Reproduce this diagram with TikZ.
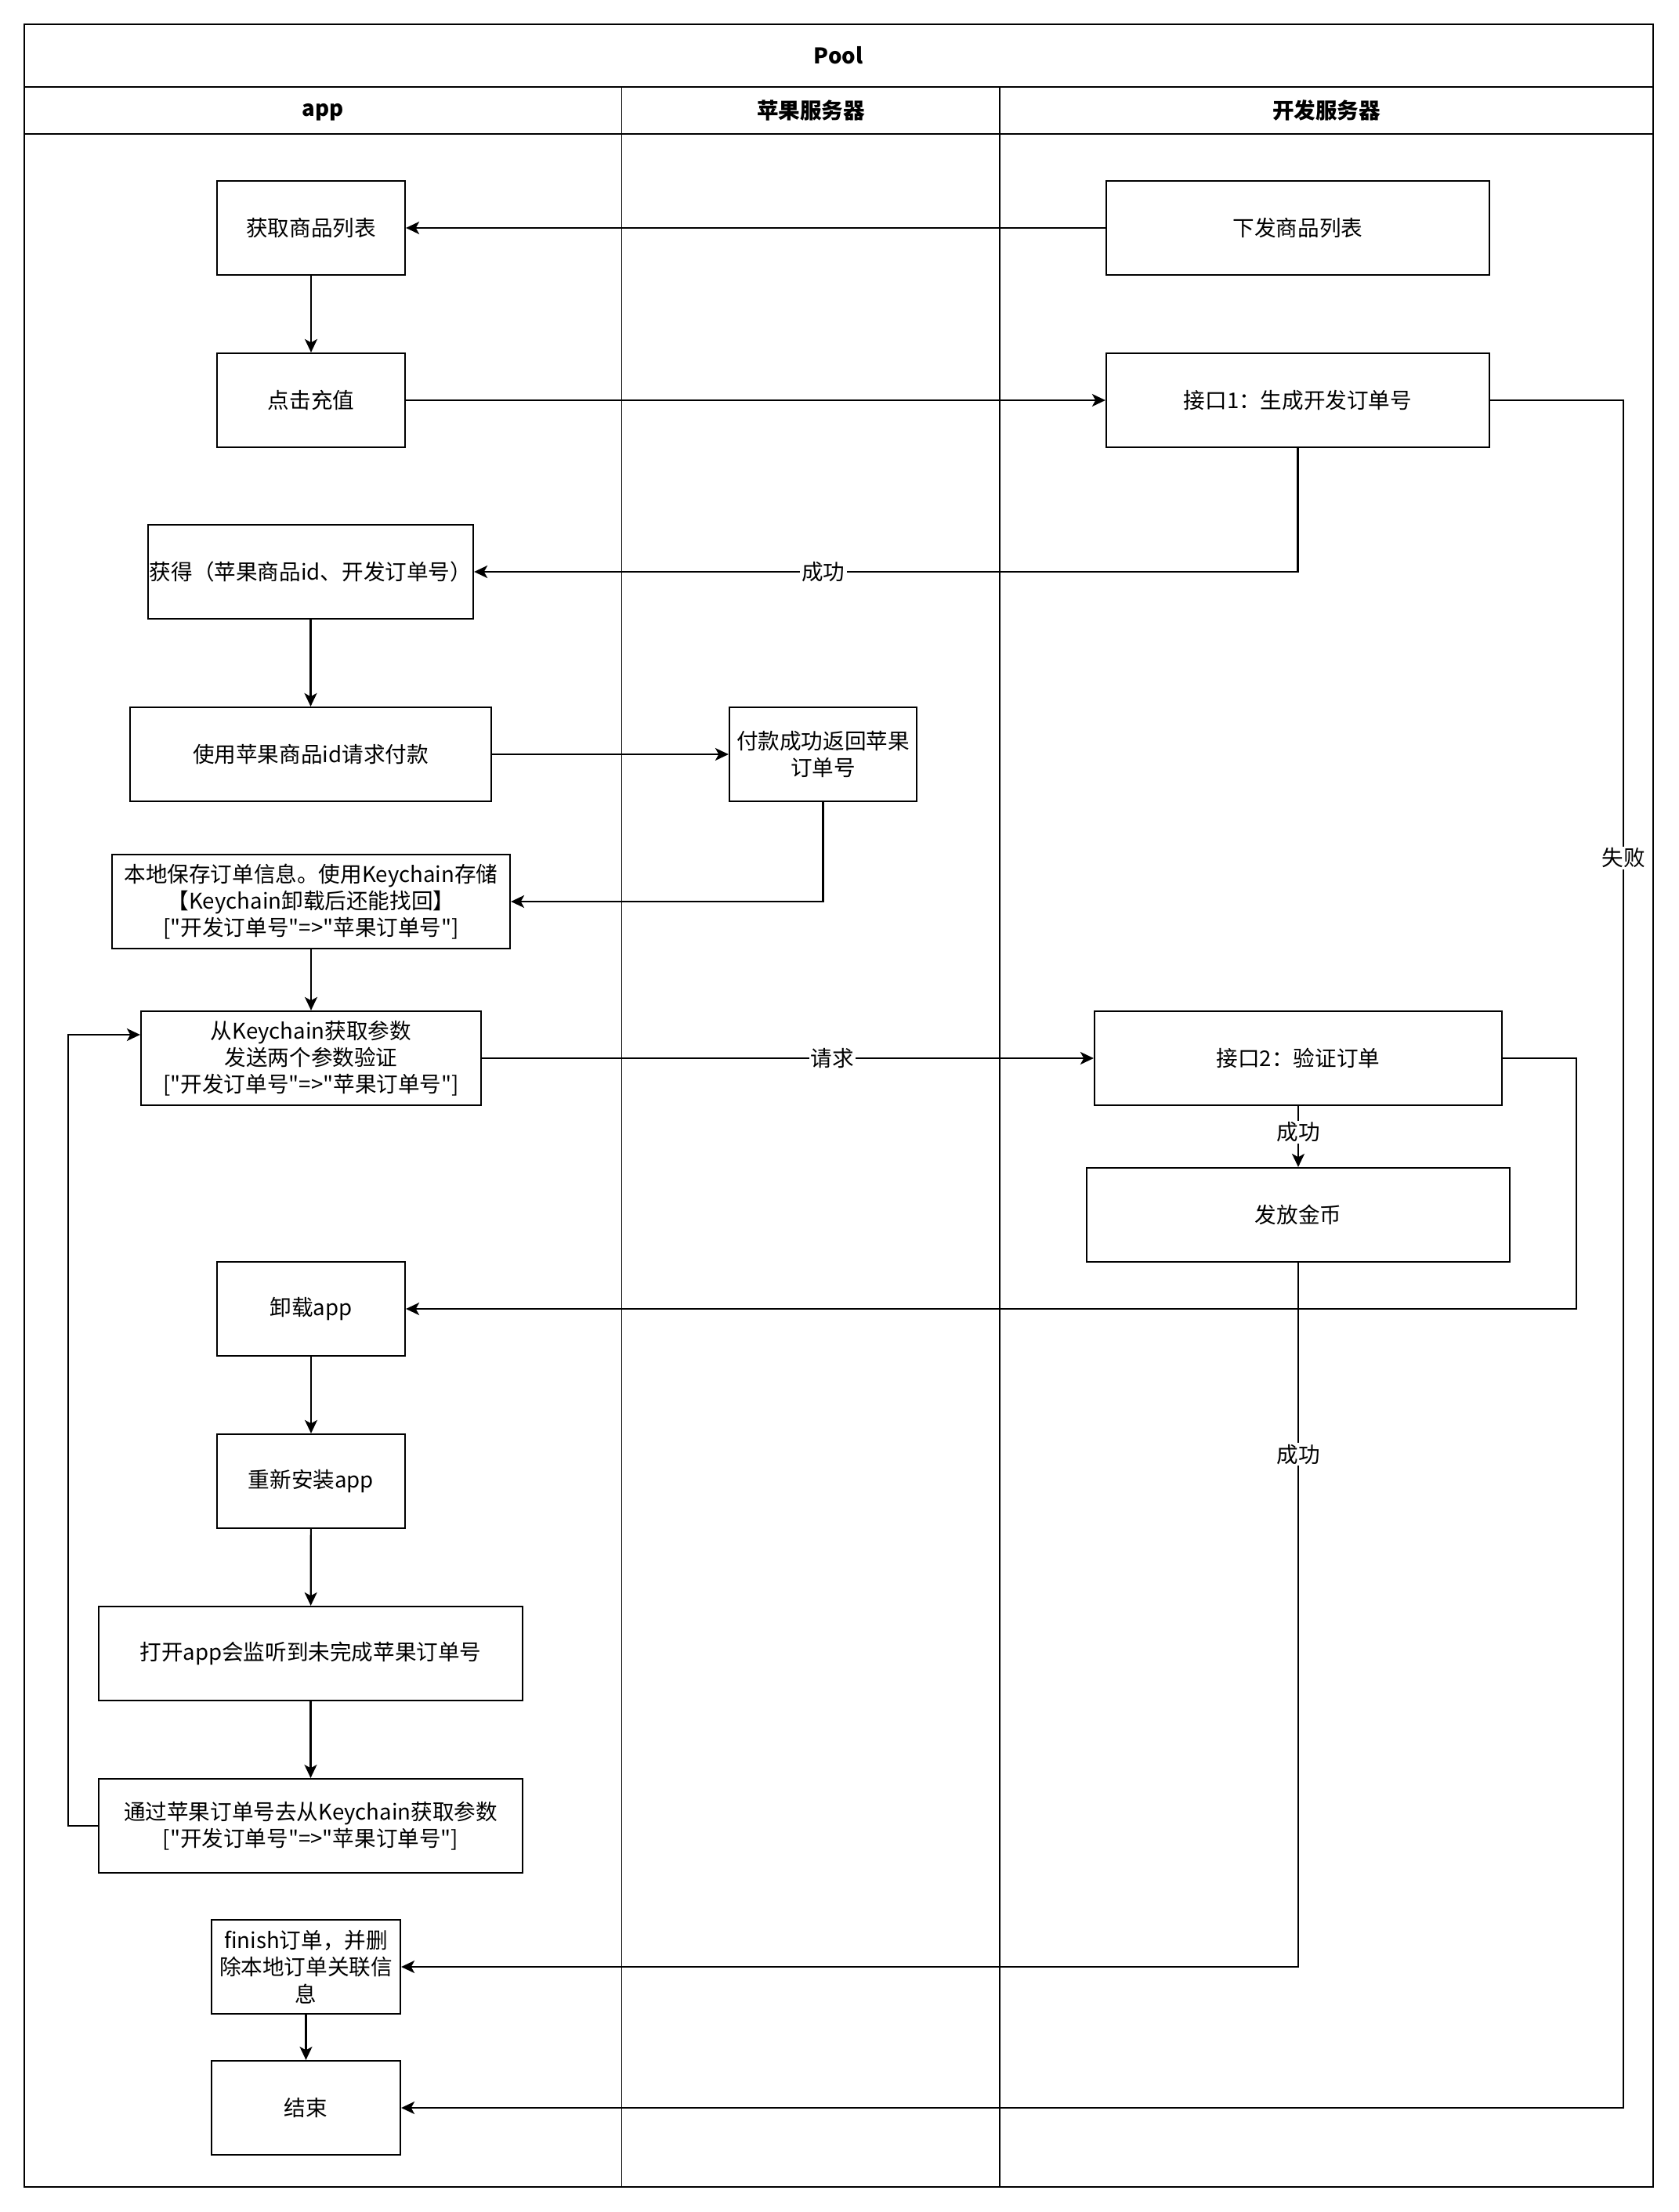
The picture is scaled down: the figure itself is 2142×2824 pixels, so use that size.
\documentclass[tikz,border=0pt]{standalone}
\usepackage{fontspec}
\setmainfont{Noto Sans CJK SC}[Ligatures=TeXOff]
\usetikzlibrary{arrows.meta}
\newcommand\myfs{\fontsize{13.8pt}{17.1pt}\selectfont}
\begin{document}
\begin{tikzpicture}[x=0.5pt,y=-0.5pt,
  every node/.style={font=\myfs},
  box/.style={draw,line width=1.1pt,minimum height=60pt,align=center,inner sep=1pt},
  conn/.style={line width=1.1pt,-{Stealth[length=8.5pt,width=8pt,inset=2.2pt]}},
  lbl/.style={fill=white,inner sep=1pt},
  hdr/.style={font=\myfs\bfseries}]
\useasboundingbox (0,0) rectangle (2142,2824);
% pool
\draw[line width=1.2pt] (31,31) rectangle (2110,2792);
\draw[line width=1.1pt] (31,111) -- (2110,111);
\draw[line width=1.1pt] (31,171) -- (2110,171);
\draw[line width=0.8pt] (793.5,111) -- (793.5,2792);
\draw[line width=0.8pt] (1276,111) -- (1276,2792);
\node[hdr] (pool) at (1070,71) {Pool};
\node[hdr] (lapp) at (412,143) {app};
\node[hdr] (lapple) at (1035,141) {苹果服务器};
\node[hdr] (ldev) at (1693,141) {开发服务器};
% boxes
\node[box,minimum width=120pt] (get) at (397,291) {获取商品列表};
\node[box,minimum width=244.5pt] (send) at (1656.5,291) {下发商品列表};
\node[box,minimum width=120pt] (click) at (397,511) {点击充值};
\node[box,minimum width=244.5pt] (api1) at (1656.5,511) {接口1：生成开发订单号};
\node[box,minimum width=203.5pt] (obtain) at (396.5,730) {获得（苹果商品id、开发订单号）};
\node[box,minimum width=230.5pt] (pay) at (396.5,963) {使用苹果商品id请求付款};
\node[box,minimum width=119.5pt] (applepay) at (1050.5,963) {付款成功返回苹果\\订单号};
\node[box,minimum width=254pt] (save) at (397,1151) {本地保存订单信息。使用Keychain存储\\【Keychain卸载后还能找回】\\{[}"开发订单号"=>"苹果订单号"{]}};
\node[box,minimum width=217pt] (fetch) at (397,1351) {从Keychain获取参数\\发送两个参数验证\\{[}"开发订单号"=>"苹果订单号"{]}};
\node[box,minimum width=260pt] (api2) at (1657,1351) {接口2：验证订单};
\node[box,minimum width=270pt] (coin) at (1657,1551) {发放金币};
\node[box,minimum width=120pt] (uninst) at (397,1671) {卸载app};
\node[box,minimum width=120pt] (reinst) at (397,1891) {重新安装app};
\node[box,minimum width=270.5pt] (open) at (396.5,2111) {打开app会监听到未完成苹果订单号};
\node[box,minimum width=270.5pt] (via) at (396.5,2331) {通过苹果订单号去从Keychain获取参数\\{[}"开发订单号"=>"苹果订单号"{]}};
\node[box,minimum width=120.5pt] (finish) at (390.5,2511) {finish订单，并删\\除本地订单关联信\\息};
\node[box,minimum width=120.5pt] (end) at (390.5,2691) {结束};
% helper coordinates
\coordinate (r1) at (2072,511);
\coordinate (r2) at (2012,1351);
\coordinate (fbk) at (87,1321);
% connectors
\draw[conn] (send) -- (get);
\draw[conn] (get) -- (click);
\draw[conn] (click) -- (api1);
\draw[conn] (api1.south) |- node[lbl,pos=0.788] {成功} (obtain.east);
\draw[conn] (obtain) -- (pay);
\draw[conn] (pay) -- (applepay);
\draw[conn] (applepay.south) |- (save.east);
\draw[conn] (save) -- (fetch);
\draw[conn] (fetch) -- node[lbl,pos=0.573] {请求} (api2);
\draw[conn] (api2) -- node[lbl,pos=0.43] {成功} (coin);
\draw[conn] (api2.east) -- (r2) |- (uninst.east);
\draw[conn] (uninst) -- (reinst);
\draw[conn] (reinst) -- (open);
\draw[conn] (open) -- (via);
\draw[conn] (via.west) -| (fbk) -- (fetch.west |- fbk);
\draw[conn] (coin.south) |- node[lbl,pos=0.136] {成功} (finish.east);
\draw[conn] (finish) -- (end);
\draw[conn] (api1.east) -- (r1) |- node[lbl,pos=0.134] {失败} (end.east);
\end{tikzpicture}
\end{document}
